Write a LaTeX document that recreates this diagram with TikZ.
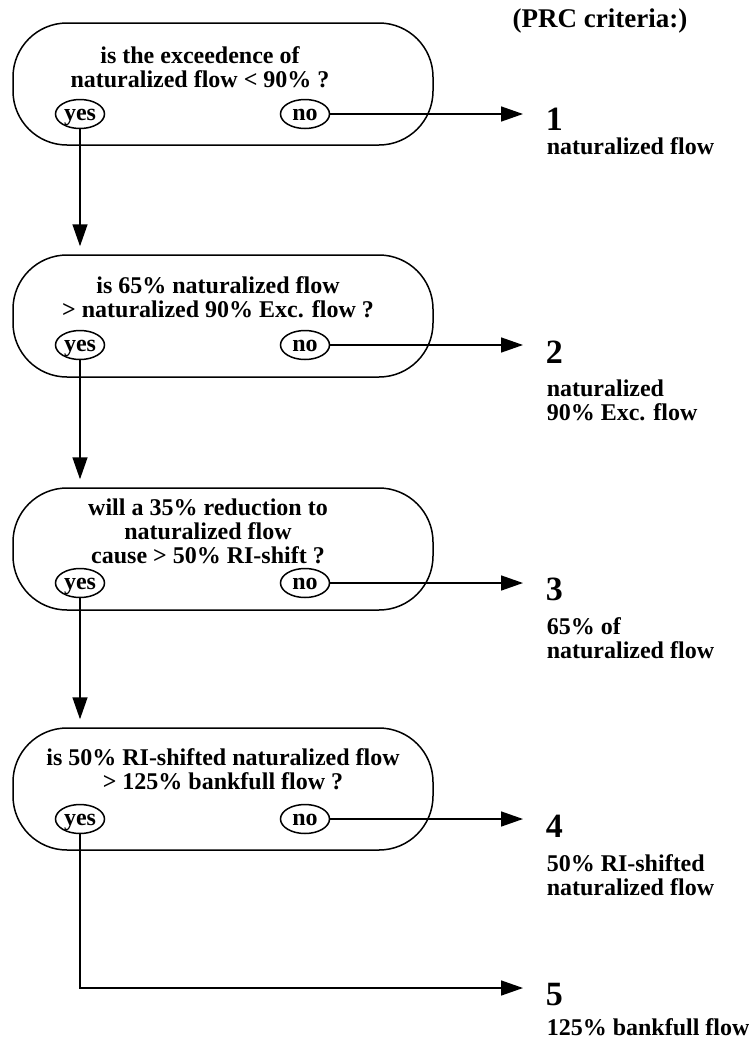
\documentclass[tikz,border=0pt]{standalone}
\usepackage{fontspec}
\setmainfont{Liberation Serif}
\usetikzlibrary{positioning}
\usetikzlibrary{shapes.geometric}
\usetikzlibrary{arrows.meta}

\begin{document}
\begin{tikzpicture}[x = 1pt, y = -1pt, line width = 1.5pt,
	every node/.style = {font = \bfseries\fontsize{24}{24}\selectfont, inner sep = 0pt},
	question/.style = {draw, rectangle, rounded corners = 54pt, minimum width = 420pt, minimum height = 122pt},
	answer/.style = {draw, ellipse, minimum width = 49pt, minimum height = 29pt, text height = 13pt, text depth = 0pt},
	crit/.style = {anchor = west, font = \bfseries\fontsize{34}{34}\selectfont},
	flow/.style = {anchor = west, align = left},
	arr/.style = {-{Triangle[length = 22pt, width = 15pt]}}]
							\useasboundingbox (0, 0) rectangle (749, 1039);
							\node (prc) at (600, 21) [font = \bfseries\fontsize{27}{27}\selectfont] {(PRC criteria:)};
							\node [question] (q1) at (223, 84) {};
							\node (t1) at (200, 67) [align = center] {is the exceedence of\\naturalized flow < 90\% ?};
							\node [answer] (y1) at (80, 114) {yes};
							\node [answer] (n1) at (305, 114) {no};
							\node [question] (q2) at (223, 316) {};
							\node (t2) at (218, 297) [align = center] {is 65\% naturalized flow\\> naturalized 90\% Exc. flow ?};
							\node [answer] (y2) at (80, 345) {yes};
							\node [answer] (n2) at (305, 345) {no};
							\node [question] (q3) at (223, 549) {};
							\node (t3) at (208, 531) [align = center] {will a 35\% reduction to\\naturalized flow\\cause > 50\% RI-shift ?};
							\node [answer] (y3) at (80, 583) {yes};
							\node [answer] (n3) at (305, 583) {no};
							\node [question] (q4) at (223, 789) {};
							\node (t4) at (223, 769) [align = center] {is 50\% RI-shifted naturalized flow\\> 125\% bankfull flow ?};
							\node [answer] (y4) at (80, 819) {yes};
							\node [answer] (n4) at (305, 819) {no};
							\node [crit] (c1) at (545, 119) {1};
							\node [flow] (f1) at (546, 146) {naturalized flow};
							\node [crit] (c2) at (545, 352) {2};
							\node [flow] (f2) at (546, 400) {naturalized\\90\% Exc. flow};
							\node [crit] (c3) at (545, 589) {3};
							\node [flow] (f3) at (546, 638) {65\% of\\naturalized flow};
							\node [crit] (c4) at (545, 826) {4};
							\node [flow] (f4) at (546, 875) {50\% RI-shifted\\naturalized flow};
							\node [crit] (c5) at (545, 995) {5};
							\node [flow] (f5) at (546, 1027) {125\% bankfull flow};
							\coordinate (turn5) at (80, 988);
							\draw [arr, shorten > = 22pt] (n1) -- (n1 -| c1.west);
							\draw [arr, shorten > = 22pt] (n2) -- (n2 -| c2.west);
							\draw [arr, shorten > = 22pt] (n3) -- (n3 -| c3.west);
							\draw [arr, shorten > = 22pt] (n4) -- (n4 -| c4.west);
							\draw [arr, shorten > = 8pt] (y1) -- (y1 |- q2.north);
							\draw [arr, shorten > = 8pt] (y2) -- (y2 |- q3.north);
							\draw [arr, shorten > = 8pt] (y3) -- (y3 |- q4.north);
							\draw [arr, shorten > = 22pt] (y4) -- (turn5) -- (turn5 -| c5.west);
						\end{tikzpicture}
\end{document}
